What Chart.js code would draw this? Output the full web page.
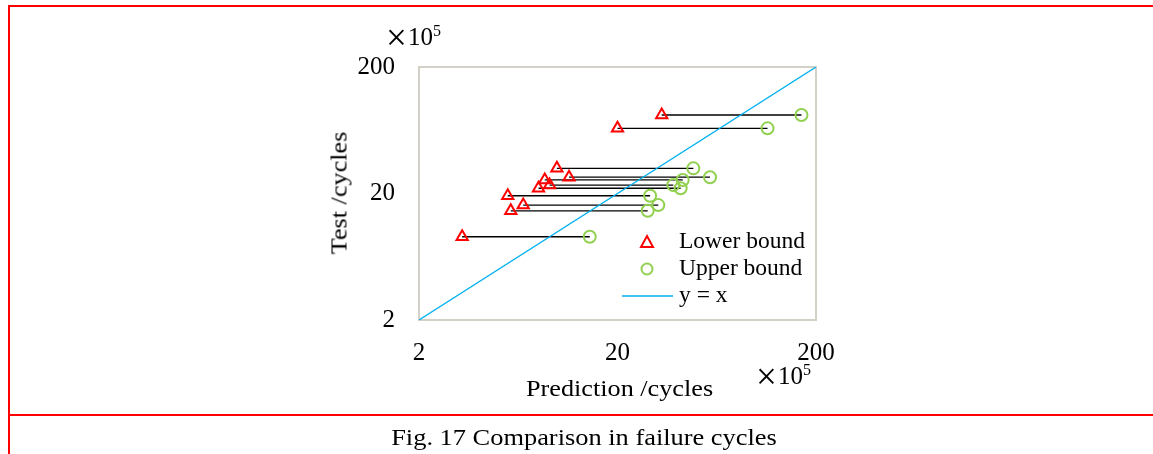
<!DOCTYPE html>
<html>
<head>
<meta charset="utf-8">
<script src="https://cdn.jsdelivr.net/npm/chart.js@4/dist/chart.umd.min.js"></script>
<style>
  html, body { margin:0; padding:0; background:#fff; }
  #wrap { position:relative; width:1153px; height:454px; overflow:hidden; font-family:"Liberation Serif","Times New Roman",serif; color:#000; }
  #c { position:absolute; left:0; top:0; }
  .t { position:absolute; white-space:nowrap; line-height:1; }
  .rl { position:absolute; background:#ff0000; }
  .ten { font-size:25px; }
  .ten sup { font-size:16px; vertical-align:top; position:relative; top:-1px; }
  .times { font-size:37px; }
</style>
</head>
<body>
<div id="wrap">
  <canvas id="c" width="1153" height="454"></canvas>
  <div class="rl" style="left:8px; top:5px; width:1145px; height:2px;"></div>
  <div class="rl" style="left:8px; top:5px; width:2px; height:449px;"></div>
  <div class="rl" style="left:8px; top:414px; width:1145px; height:2px;"></div>
  <div class="t times" style="left:386px; top:19px;">×</div>
  <div class="t ten" style="left:408px; top:24px;">10<sup>5</sup></div>
  <div class="t times" style="left:756px; top:358px;">×</div>
  <div class="t ten" style="left:778px; top:363px;">10<sup>5</sup></div>
  <div class="t" style="left:526px; top:377px; font-size:23px; transform-origin:0 0; transform:scaleX(1.14);">Prediction /cycles</div>
  <div class="t" style="left:339px; top:193px; font-size:23px; transform:translate(-50%,-50%) rotate(-90deg) scaleX(1.14);">Test /cycles</div>
  <div class="t" style="left:584px; top:425px; font-size:24px; transform:translateX(-50%) scaleX(1.1);">Fig. 17 Comparison in failure cycles</div>
</div>
<script>
// Data (units: x10^5 cycles)
const testCycles   = [83.5, 65.5, 31.6, 26.9, 25.6, 23.3, 22.0, 19.2, 16.2, 14.6, 9.1];
const lowerPred    = [33.4, 20.0, 9.9, 11.4, 8.6, 9.1, 8.0, 5.6, 6.7, 5.8, 3.3];
const upperPred    = [169, 114, 48.2, 58.5, 42.6, 38.2, 41.6, 29.2, 32.1, 28.4, 14.5];
const tickValues   = [2, 20, 200];
const diagonal     = [2, 200];
const legendLabels = ['Lower bound', 'Upper bound', 'y = x'];

const FONT = '"Liberation Serif","Times New Roman",serif';
const RED = '#ff0000', GREEN = '#92d050', BLUE = '#00b0f0';

const connectors = testCycles.map((t, i) => ({
  type: 'scatter',
  data: [{x: lowerPred[i], y: t}, {x: upperPred[i], y: t}],
  showLine: true, borderColor: '#000', borderWidth: 1.3,
  pointRadius: 0, pointHoverRadius: 0, order: 5
}));

const datasets = [
  ...connectors,
  { type:'scatter', label: legendLabels[2], data: diagonal.map(v => ({x:v, y:v})), showLine:true,
    borderColor: BLUE, borderWidth: 1.3, pointRadius:0, order: 4 },
  { type:'scatter', label: legendLabels[0], data: testCycles.map((t,i)=>({x: lowerPred[i], y: t})),
    pointStyle:'triangle', pointRadius:6.5, borderColor: RED, borderWidth:2, backgroundColor:'rgba(0,0,0,0)', order: 1 },
  { type:'scatter', label: legendLabels[1], data: testCycles.map((t,i)=>({x: upperPred[i], y: t})),
    pointStyle:'circle', pointRadius:6, borderColor: GREEN, borderWidth:2, backgroundColor:'rgba(0,0,0,0)', order: 2 }
];

const frame = {
  id: 'frame',
  beforeDatasetsDraw(chart) {
    const {ctx, chartArea: a} = chart;
    ctx.save();
    ctx.strokeStyle = '#d3d1c7';
    ctx.lineWidth = 2;
    ctx.strokeRect(a.left, a.top, a.right - a.left, a.bottom - a.top);
    ctx.restore();
  }
};

const legendPlugin = {
  id: 'customLegend',
  afterDraw(chart) {
    const ctx = chart.ctx;
    ctx.save();
    ctx.font = '23.5px ' + FONT;
    ctx.fillStyle = '#000';
    ctx.textBaseline = 'middle';
    // Lower bound
    let cx = 647, cy = 242;
    ctx.strokeStyle = RED; ctx.lineWidth = 2;
    ctx.beginPath();
    ctx.moveTo(cx, cy - 6); ctx.lineTo(cx + 6, cy + 5); ctx.lineTo(cx - 6, cy + 5); ctx.closePath();
    ctx.stroke();
    ctx.fillText(legendLabels[0], 679, cy);
    // Upper bound
    cy = 269;
    ctx.strokeStyle = GREEN;
    ctx.beginPath(); ctx.arc(cx, cy, 5.5, 0, Math.PI * 2); ctx.stroke();
    ctx.fillText(legendLabels[1], 679, cy);
    // y = x
    cy = 296;
    ctx.strokeStyle = BLUE; ctx.lineWidth = 1.3;
    ctx.beginPath(); ctx.moveTo(622, cy); ctx.lineTo(673, cy); ctx.stroke();
    ctx.fillText(legendLabels[2], 679, cy);
    ctx.restore();
  }
};

const setTicks = (scale) => { scale.ticks = tickValues.map(v => ({value: v})); };

new Chart(document.getElementById('c'), {
  type: 'scatter',
  data: { datasets },
  options: {
    responsive: false,
    animation: false,
    events: [],
    layout: { padding: { left: 0, right: 337, top: 67, bottom: 0 } },
    plugins: { legend: { display: false }, tooltip: { enabled: false } },
    scales: {
      x: {
        type: 'logarithmic', min: 2, max: 200,
        afterBuildTicks: setTicks,
        afterFit: (s) => { s.height = 134; },
        grid: { display: false, drawTicks: false },
        border: { display: false },
        ticks: { font: { family: FONT, size: 25 }, color: '#000', padding: 18, autoSkip: false, maxRotation: 0,
                 callback: (v) => String(v) }
      },
      y: {
        type: 'logarithmic', min: 2, max: 200,
        afterBuildTicks: setTicks,
        afterFit: (s) => { s.width = 419; },
        grid: { display: false, drawTicks: false },
        border: { display: false },
        ticks: { font: { family: FONT, size: 25 }, color: '#000', padding: 24, autoSkip: false,
                 callback: (v) => String(v) }
      }
    }
  },
  plugins: [frame, legendPlugin]
});
</script>
</body>
</html>
